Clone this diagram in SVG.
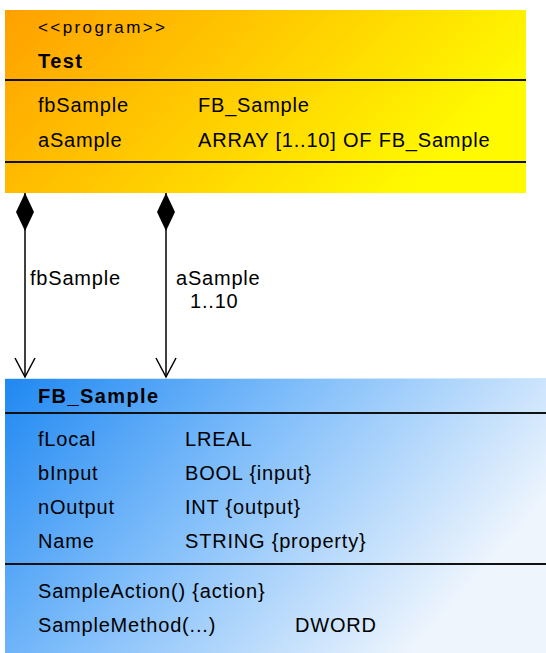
<svg xmlns="http://www.w3.org/2000/svg" width="546" height="653" viewBox="0 0 546 653">
  <style>
    text { font-family: "Liberation Sans", Arial, sans-serif; font-size: 20px; fill: #000; letter-spacing: 0.8px; }
    .bold { font-weight: bold; letter-spacing: 1.4px; }
    .stereo { font-size: 17px; letter-spacing: 2.4px; }
    .sep { stroke: #111; stroke-width: 2; }
    .conn { stroke: #000; stroke-width: 1.5; fill: none; }
  </style>
  <defs>
    <linearGradient id="gOrange" x1="0" y1="0" x2="1" y2="0.35">
      <stop offset="0" stop-color="#FFA000"/>
      <stop offset="0.55" stop-color="#FFD000"/>
      <stop offset="1" stop-color="#FFFA00"/>
    </linearGradient>
    <linearGradient id="gBlue" x1="0" y1="0" x2="1" y2="0.45">
      <stop offset="0" stop-color="#1F88F2"/>
      <stop offset="0.45" stop-color="#7DBCFA"/>
      <stop offset="1" stop-color="#EEF5FD"/>
    </linearGradient>
    <marker id="diamond" markerUnits="userSpaceOnUse" viewBox="0 0 38 18" refX="0" refY="9" markerWidth="38" markerHeight="18" orient="auto">
      <path d="M0,9 L19,0 L38,9 L19,18 Z" fill="#000"/>
    </marker>
    <marker id="open" markerUnits="userSpaceOnUse" viewBox="0 0 22 24" refX="20" refY="12" markerWidth="22" markerHeight="24" orient="auto">
      <path d="M1,2 L20,12 L1,22" fill="none" stroke="#000" stroke-width="1.5"/>
    </marker>
  </defs>

  <g id="node-test">
    <rect x="5" y="10" width="521" height="183" fill="url(#gOrange)"/>
    <text class="stereo" x="38" y="33">&lt;&lt;program&gt;&gt;</text>
    <text class="bold" x="38" y="68">Test</text>
    <line class="sep" x1="5" y1="80" x2="526" y2="80"/>
    <text x="38" y="112">fbSample</text>
    <text x="198" y="112">FB_Sample</text>
    <text x="38" y="147">aSample</text>
    <text x="198" y="147">ARRAY [1..10] OF FB_Sample</text>
    <line class="sep" x1="5" y1="162" x2="526" y2="162"/>
  </g>

  <g id="node-fb-sample">
    <rect x="5" y="378" width="541" height="275" fill="url(#gBlue)"/>
    <line x1="5" y1="378.5" x2="546" y2="378.5" stroke="#CFE6FF" stroke-width="1"/>
    <text class="bold" x="38" y="403">FB_Sample</text>
    <line class="sep" x1="5" y1="413" x2="546" y2="413"/>
    <text x="38" y="446">fLocal</text>
    <text x="185" y="446">LREAL</text>
    <text x="38" y="480">bInput</text>
    <text x="185" y="480">BOOL {input}</text>
    <text x="38" y="514">nOutput</text>
    <text x="185" y="514">INT {output}</text>
    <text x="38" y="548">Name</text>
    <text x="185" y="548">STRING {property}</text>
    <line class="sep" x1="5" y1="564" x2="546" y2="564"/>
    <text x="38" y="598">SampleAction() {action}</text>
    <text x="38" y="632">SampleMethod(...)</text>
    <text x="295" y="632">DWORD</text>
  </g>

  <g id="connectors">
    <line class="conn" x1="25" y1="193" x2="25" y2="377" marker-start="url(#diamond)" marker-end="url(#open)"/>
    <line class="conn" x1="166" y1="193" x2="166" y2="377" marker-start="url(#diamond)" marker-end="url(#open)"/>
    <text x="30" y="285">fbSample</text>
    <text x="176" y="285">aSample</text>
    <text x="190" y="308">1..10</text>
  </g>
</svg>
